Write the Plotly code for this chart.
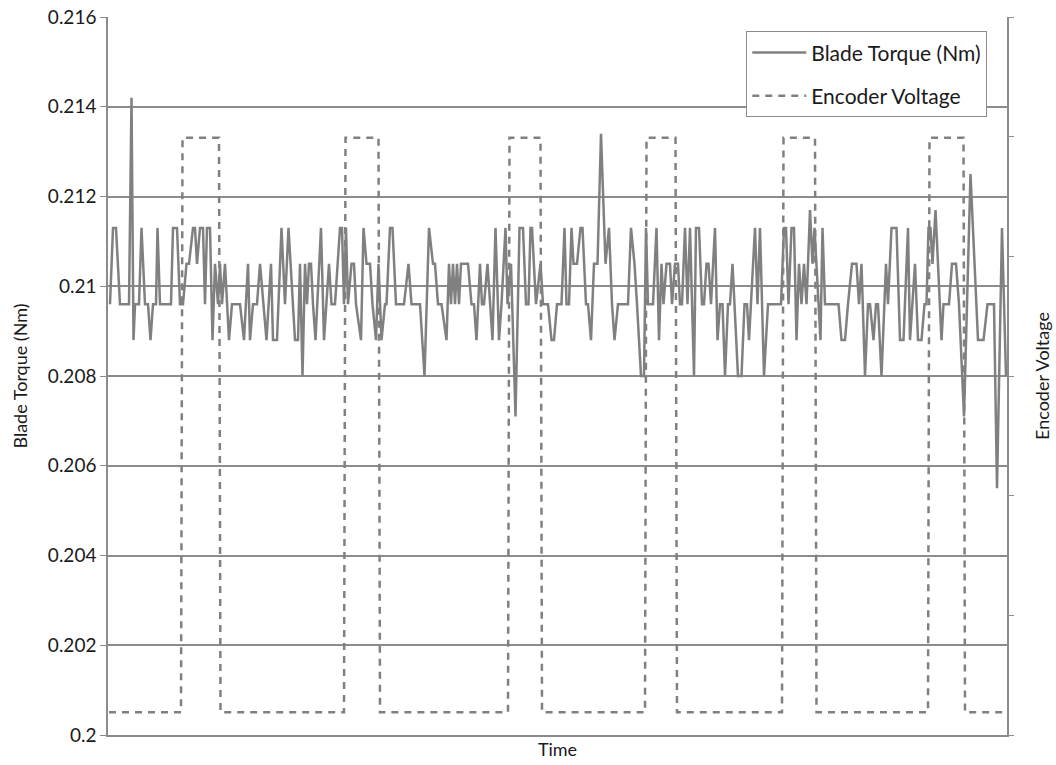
import plotly.graph_objects as go

# ---- data ----
time_torque = [2, 5, 8, 12, 21, 23.5, 25.5, 27, 31, 33.5, 37, 40, 42.5, 45, 48, 49.5, 52, 63, 65, 69,
               72, 75, 78.5, 81, 85, 87, 89, 92, 95, 97, 99, 102, 104.5, 107, 110, 112, 114, 117, 121, 124,
               132, 136, 140, 142, 145, 149, 152, 158.5, 163, 165, 169, 173.5, 177, 180.5, 187, 190, 192, 194.5, 197, 199,
               201, 203, 205, 207.5, 213, 216, 221, 223.5, 227, 232, 234, 236, 238, 240, 243.5, 246, 248, 253, 255.5, 258.5,
               262, 264.5, 268, 270.5, 273.5, 277, 278.5, 282, 284.5, 288, 296, 300.5, 303.5, 312, 316.5, 321, 325, 327, 330, 333.5,
               338.5, 341, 343, 345, 347, 349, 351, 353, 360, 363.5, 366, 368.5, 372, 374, 376, 379.5, 384.5, 387.5, 391, 393.5,
               397.5, 399.5, 403, 407.5, 411.5, 415, 418, 420.5, 422.5, 424, 428, 432.5, 435, 440, 443.5, 446, 449, 453.5, 456.5, 458.5,
               461, 463.5, 465.5, 469, 472.5, 474.5, 478, 480, 483, 486, 489.5, 493, 497.5, 501, 504, 506.5, 510, 520, 523, 526.5,
               529, 533, 536, 538, 540, 545, 548.5, 551, 553.5, 555.5, 558.5, 562, 564, 567, 570, 572, 574, 577, 579.5, 582,
               586, 588, 591, 594, 596, 598.5, 600.5, 603, 607, 609.5, 612, 614.5, 617, 620, 622, 624.5, 630, 633.5, 636.5, 639,
               641, 647, 649.5, 652, 656, 660, 673, 676, 678, 680.5, 683.5, 686, 688.5, 691, 693.5, 696, 698.5, 702, 704.5, 706.5,
               712.5, 714.5, 717, 730.5, 733.5, 737, 740, 744, 748.5, 751, 753.5, 757, 760, 762, 765.5, 768, 770, 773.5, 778, 780,
               783.5, 788.5, 792, 795.5, 800, 802, 807, 810, 813.5, 816.5, 818.5, 820.5, 822.5, 824.5, 827.5, 833.5, 835.5, 841, 844, 848,
               851, 856, 862.5, 870, 875.5, 879.5, 886, 889, 894, 898]

blade_torque = [0.2096, 0.2113, 0.2113, 0.2096, 0.2096, 0.2142, 0.2088, 0.2096, 0.2096, 0.2113, 0.2096, 0.2096, 0.2088, 0.2096, 0.2096, 0.2113, 0.2096, 0.2096, 0.2113, 0.2113,
                0.2096, 0.2096, 0.2105, 0.2105, 0.2113, 0.2113, 0.2105, 0.2113, 0.2113, 0.2096, 0.2113, 0.2113, 0.2088, 0.2105, 0.2096, 0.2105, 0.2096, 0.2105, 0.2088, 0.2096,
                0.2096, 0.2088, 0.2105, 0.2088, 0.2096, 0.2096, 0.2105, 0.2088, 0.2105, 0.2088, 0.2088, 0.2113, 0.2096, 0.2113, 0.2088, 0.2088, 0.2105, 0.2080, 0.2105, 0.2096,
                0.2105, 0.2105, 0.2096, 0.2088, 0.2113, 0.2088, 0.2105, 0.2096, 0.2096, 0.2113, 0.2113, 0.2096, 0.2113, 0.2096, 0.2105, 0.2105, 0.2096, 0.2088, 0.2113, 0.2105,
                0.2105, 0.2096, 0.2088, 0.2105, 0.2088, 0.2096, 0.2096, 0.2113, 0.2113, 0.2096, 0.2096, 0.2105, 0.2096, 0.2096, 0.2080, 0.2113, 0.2105, 0.2105, 0.2096, 0.2096,
                0.2088, 0.2105, 0.2096, 0.2105, 0.2096, 0.2105, 0.2096, 0.2105, 0.2105, 0.2096, 0.2096, 0.2088, 0.2105, 0.2096, 0.2096, 0.2105, 0.2088, 0.2113, 0.2088, 0.2096,
                0.2113, 0.2096, 0.2105, 0.2071, 0.2113, 0.2113, 0.2096, 0.2096, 0.2113, 0.2113, 0.2096, 0.2105, 0.2096, 0.2096, 0.2088, 0.2088, 0.2096, 0.2096, 0.2113, 0.2096,
                0.2096, 0.2113, 0.2105, 0.2105, 0.2113, 0.2113, 0.2096, 0.2096, 0.2088, 0.2105, 0.2105, 0.2134, 0.2105, 0.2113, 0.2096, 0.2088, 0.2096, 0.2096, 0.2113, 0.2105,
                0.2096, 0.2080, 0.2080, 0.2113, 0.2096, 0.2096, 0.2113, 0.2088, 0.2105, 0.2096, 0.2105, 0.2105, 0.2096, 0.2105, 0.2105, 0.2096, 0.2096, 0.2113, 0.2096, 0.2113,
                0.2080, 0.2113, 0.2113, 0.2096, 0.2096, 0.2105, 0.2105, 0.2096, 0.2113, 0.2088, 0.2096, 0.2096, 0.2080, 0.2096, 0.2096, 0.2105, 0.2080, 0.2080, 0.2096, 0.2096,
                0.2088, 0.2113, 0.2096, 0.2113, 0.2080, 0.2096, 0.2096, 0.2113, 0.2113, 0.2096, 0.2113, 0.2113, 0.2088, 0.2105, 0.2096, 0.2105, 0.2096, 0.2117, 0.2105, 0.2113,
                0.2088, 0.2113, 0.2096, 0.2096, 0.2088, 0.2088, 0.2096, 0.2105, 0.2105, 0.2096, 0.2105, 0.2080, 0.2096, 0.2096, 0.2088, 0.2096, 0.2096, 0.2080, 0.2105, 0.2096,
                0.2113, 0.2113, 0.2088, 0.2088, 0.2113, 0.2088, 0.2105, 0.2088, 0.2088, 0.2096, 0.2096, 0.2113, 0.2113, 0.2105, 0.2117, 0.2088, 0.2096, 0.2096, 0.2105, 0.2105,
                0.2096, 0.2071, 0.2125, 0.2088, 0.2088, 0.2096, 0.2096, 0.2055, 0.2113, 0.2080]

time_encoder = [1, 73, 74.5, 111, 112.5, 236, 237.5, 270.5, 272, 400, 401.5, 432.5, 434,
                537, 538.5, 567.5, 569, 674, 675.5, 707, 708.5, 820, 821.5, 855.5, 857, 898]
encoder_voltage = [0.19, 0.19, 4.99, 4.99, 0.19, 0.19, 4.99, 4.99, 0.19, 0.19, 4.99, 4.99, 0.19,
                   0.19, 4.99, 4.99, 0.19, 0.19, 4.99, 4.99, 0.19, 0.19, 4.99, 4.99, 0.19, 0.19]

torque_ticks = [0.2, 0.202, 0.204, 0.206, 0.208, 0.21, 0.212, 0.214, 0.216]
torque_tick_labels = ["0.2", "0.202", "0.204", "0.206", "0.208", "0.21", "0.212", "0.214", "0.216"]

GRAY = "#808080"
AXIS = "#8c8c8c"
FONT = "Lato"
TEXT = "#1a1a1a"

fig = go.Figure()
fig.add_trace(go.Scatter(
    x=time_torque, y=blade_torque, mode="lines", name="Blade Torque (Nm)",
    line=dict(color=GRAY, width=2.5), legendgroup="a", yaxis="y"))
fig.add_trace(go.Scatter(
    x=time_encoder, y=encoder_voltage, mode="lines", name="Encoder Voltage",
    line=dict(color=GRAY, width=2.5, dash="7px,6px"), legendgroup="b", yaxis="y2"))

fig.update_layout(
    width=1056, height=765,
    autosize=False,
    margin=dict(l=108, r=49, t=17, b=30, autoexpand=False),
    paper_bgcolor="white", plot_bgcolor="white",
    font=dict(family=FONT, size=18, color=TEXT),
    showlegend=True,
    legend=dict(x=0.71, y=0.98, xanchor="left", yanchor="top",
                bgcolor="white", bordercolor=AXIS, borderwidth=1,
                font=dict(family=FONT, size=21, color=TEXT),
                tracegroupgap=13, itemwidth=54, entrywidth=247),
    xaxis=dict(range=[0, 899], showticklabels=False, showgrid=False, zeroline=False,
               automargin=False,
               showline=True, linecolor=AXIS, linewidth=1.5, ticks="",
               title=dict(text="Time", font=dict(size=18), standoff=8)),
    yaxis=dict(range=[0.2, 0.216], tickvals=torque_ticks, ticktext=torque_tick_labels,
               automargin=False,
               showgrid=True, gridcolor=AXIS, gridwidth=1.5, zeroline=False,
               showline=True, linecolor=AXIS, linewidth=1.5,
               ticks="outside", ticklen=6, tickcolor=AXIS,
               tickfont=dict(size=19),
               title=dict(text="Blade Torque (Nm)", font=dict(size=18), standoff=16)),
    yaxis2=dict(range=[0, 6], dtick=1, overlaying="y", side="right",
                automargin=False,
                showticklabels=False, showgrid=False, zeroline=False,
                showline=True, linecolor=AXIS, linewidth=1.5,
                ticks="outside", ticklen=5, tickcolor=AXIS,
                title=dict(text="Encoder Voltage", font=dict(size=18), standoff=24)),
)

fig.write_html("out.html", config={"displayModeBar": False},
               post_script="document.body.style.margin='0';document.body.style.overflow='hidden';")
